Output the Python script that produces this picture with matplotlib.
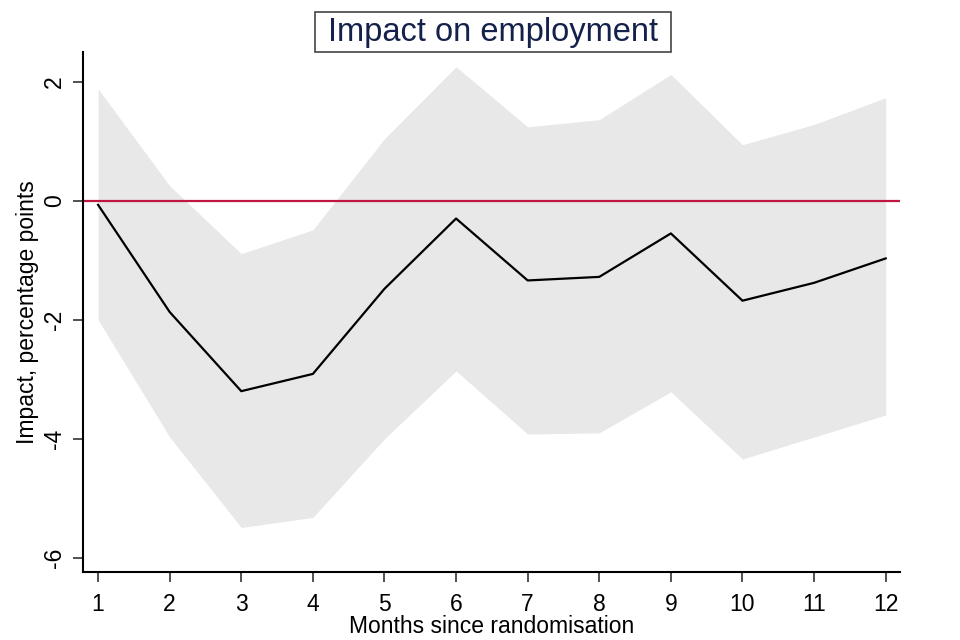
import matplotlib
matplotlib.use('Agg')
import matplotlib.pyplot as plt
from matplotlib.patches import Rectangle

plt.rcParams['font.family'] = ['Liberation Sans', 'DejaVu Sans']

# months since randomisation
months = [1, 2, 3, 4, 5, 6, 7, 8, 9, 10, 11, 12]
# point estimates (percentage points)
impact = [-0.07, -1.87, -3.20, -2.91, -1.48, -0.30, -1.34, -1.28, -0.55, -1.68, -1.38, -0.97]
# confidence interval bounds
upper = [1.88, 0.25, -0.89, -0.49, 1.04, 2.25, 1.24, 1.36, 2.12, 0.94, 1.28, 1.73]
lower = [-2.00, -3.97, -5.49, -5.32, -4.00, -2.86, -3.92, -3.90, -3.21, -4.34, -3.97, -3.60]

yticks = [-6, -4, -2, 0, 2]

fig = plt.figure(figsize=(9.6, 6.4), dpi=100)
ax = fig.add_axes([0.0865, 0.106, 0.851, 0.813])

ax.fill_between(months, lower, upper, color='#e8e8e8', linewidth=0, zorder=1)
ax.axhline(0, color='#c0163f', linewidth=1.6, zorder=2)
ax.plot(months, impact, color='black', linewidth=1.6, zorder=3)

ax.set_xlim(0.79, 12.2)
ax.set_ylim(-6.24, 2.5)
ax.set_xticks(months)
ax.set_yticks(yticks)
ax.set_yticklabels([str(v) for v in yticks], rotation=90, va='center')
ax.tick_params(axis='both', labelsize=16.5, length=7, width=1.2, color='#333333')
ax.tick_params(axis='x', pad=8)
ax.tick_params(axis='y', pad=5)

for side in ['top', 'right']:
    ax.spines[side].set_visible(False)
for side in ['left', 'bottom']:
    ax.spines[side].set_linewidth(1.5)

ax.set_xlabel('Months since randomisation', fontsize=16.5, labelpad=-1)
ax.set_ylabel('Impact, percentage points', fontsize=16.5, labelpad=3)

# boxed title
fig.patches.append(Rectangle((0.328, 0.919), 0.371, 0.0625, transform=fig.transFigure,
                             facecolor='white', edgecolor='#444444', linewidth=1.2))
fig.text(0.5135, 0.95, 'Impact on employment', ha='center', va='center',
         fontsize=23.5, color='#14214a')

fig.savefig('out.png', dpi=100, facecolor='white')
